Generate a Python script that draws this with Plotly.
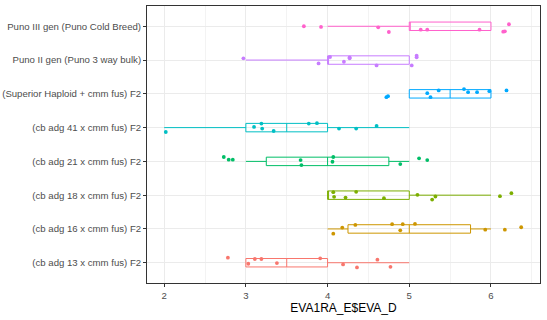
import plotly.graph_objects as go

categories = [
    "(cb adg 13 x cmm fus) F2",
    "(cb adg 16 x cmm fus) F2",
    "(cb adg 18 x cmm fus) F2",
    "(cb adg 21 x cmm fus) F2",
    "(cb adg 41 x cmm fus) F2",
    "(Superior Haploid + cmm fus) F2",
    "Puno II gen (Puno 3 way bulk)",
    "Puno III gen (Puno Cold Breed)",
]
colors = ["#F8766D", "#CD9600", "#7CAE00", "#00BE67",
          "#00BFC4", "#00A9FF", "#C77CFF", "#FF61CC"]

# box statistics per group
lowerfence = [3, 4, 4, 3, 2, 5, 3, 4]
q1 = [3, 4.25, 4, 3.25, 3, 5, 4, 5]
median = [3.5, 5, 4, 4, 3.5, 5.5, 4, 5]
q3 = [4, 5.75, 5, 4.75, 4, 6, 5, 6]
upperfence = [5, 6, 6, 5, 5, 6, 5, 6]

# jittered observations (x value, vertical jitter offset)
pts_x_13 = [2.78, 3.03, 3.11, 3.19, 3.38, 3.91, 4.19, 4.36, 4.61, 4.77]
pts_dy_13 = [0.15, -0.03, 0.11, 0.11, -0.01, 0.13, -0.05, -0.14, 0.09, -0.12]
pts_x_16 = [4.07, 4.18, 4.34, 4.79, 4.89, 4.92, 5.07, 5.93, 6.17, 6.37]
pts_dy_16 = [-0.14, 0.04, 0.12, 0.14, -0.04, 0.14, 0.15, -0.02, -0.02, 0.05]
pts_x_18 = [4.07, 4.08, 4.22, 4.35, 4.69, 5.10, 5.28, 5.32, 6.11, 6.25]
pts_dy_18 = [0.09, -0.05, -0.07, 0.10, -0.09, 0.01, -0.13, -0.04, -0.03, 0.06]
pts_x_21 = [2.73, 2.79, 2.84, 3.67, 3.68, 4.06, 4.07, 4.89, 5.12, 5.22]
pts_dy_21 = [0.13, 0.05, 0.05, 0.04, -0.11, -0.01, 0.13, -0.08, 0.09, 0.04]
pts_x_41 = [2.02, 3.10, 3.19, 3.20, 3.34, 3.77, 3.87, 4.14, 4.35, 4.60]
pts_dy_41 = [-0.13, 0.02, 0.12, -0.03, -0.10, 0.12, 0.13, -0.03, -0.03, 0.05]
pts_x_sup = [4.72, 4.74, 5.22, 5.26, 5.36, 5.67, 5.72, 5.83, 5.98, 6.19]
pts_dy_sup = [-0.10, -0.07, 0.02, -0.10, 0.10, 0.14, 0.05, 0.05, 0.08, 0.10]
pts_x_p2 = [2.97, 3.89, 4.03, 4.20, 4.27, 4.27, 4.60, 5.03, 5.09, 5.09]
pts_dy_p2 = [0.05, -0.10, 0.09, -0.05, 0.05, 0.08, -0.16, -0.16, 0.13, 0.08]
pts_x_p3 = [3.71, 3.92, 4.62, 4.75, 5.14, 5.22, 5.86, 6.15, 6.17, 6.22]
pts_dy_p3 = [0.00, -0.02, -0.03, -0.17, -0.10, -0.10, -0.10, -0.16, -0.15, 0.06]

pts_x = [pts_x_13, pts_x_16, pts_x_18, pts_x_21, pts_x_41, pts_x_sup, pts_x_p2, pts_x_p3]
pts_dy = [pts_dy_13, pts_dy_16, pts_dy_18, pts_dy_21, pts_dy_41, pts_dy_sup, pts_dy_p2, pts_dy_p3]

x_ticks = [2, 3, 4, 5, 6]
x_title = "EVA1RA_E$EVA_D"

positions = list(range(1, len(categories) + 1))

fig = go.Figure()
for i, cat in enumerate(categories):
    fig.add_trace(go.Box(
        orientation="h",
        y=[positions[i]],
        q1=[q1[i]], median=[median[i]], q3=[q3[i]],
        lowerfence=[lowerfence[i]], upperfence=[upperfence[i]],
        width=0.25, whiskerwidth=0,
        line=dict(color=colors[i], width=1),
        fillcolor="rgba(255,255,255,0)",
        boxpoints=False, hoverinfo="skip", showlegend=False, name=cat,
    ))
for i, cat in enumerate(categories):
    fig.add_trace(go.Scatter(
        x=pts_x[i],
        y=[positions[i] + d for d in pts_dy[i]],
        mode="markers",
        marker=dict(color=colors[i], size=3.8, line=dict(width=0)),
        showlegend=False, name=cat,
    ))

font_family = "Arial, Liberation Sans, sans-serif"
fig.update_layout(
    width=547, height=320,
    margin=dict(l=147, r=7, t=6, b=37, autoexpand=False),
    paper_bgcolor="white", plot_bgcolor="white",
    font=dict(family=font_family, size=9.6, color="#4D4D4D"),
    boxmode="overlay",
    xaxis=dict(
        range=[1.79, 6.6], tickvals=x_ticks, ticktext=[str(t) for t in x_ticks],
        showgrid=True, gridcolor="#EBEBEB", gridwidth=1,
        minor=dict(tickvals=[2.5, 3.5, 4.5, 5.5, 6.5], showgrid=True,
                   gridcolor="#F3F3F3", gridwidth=0.6, ticks=""),
        showline=True, linecolor="#333333", linewidth=1, mirror=True,
        ticks="outside", ticklen=3, tickcolor="#333333", tickwidth=1,
        zeroline=False,
        tickfont=dict(family=font_family, size=9.6, color="#4D4D4D"),
        title=dict(text=x_title, standoff=3,
                   font=dict(family=font_family, size=12, color="#000000")),
    ),
    yaxis=dict(
        range=[0.4, 8.6], tickvals=positions, ticktext=categories,
        showgrid=True, gridcolor="#EBEBEB", gridwidth=1,
        showline=True, linecolor="#333333", linewidth=1, mirror=True,
        ticks="outside", ticklen=3, tickcolor="#333333", tickwidth=1,
        zeroline=False,
        tickfont=dict(family=font_family, size=9.6, color="#4D4D4D"),
    ),
)

fig.write_html("out.html", config={"displayModeBar": False},
               post_script="document.body.style.margin='0';")
